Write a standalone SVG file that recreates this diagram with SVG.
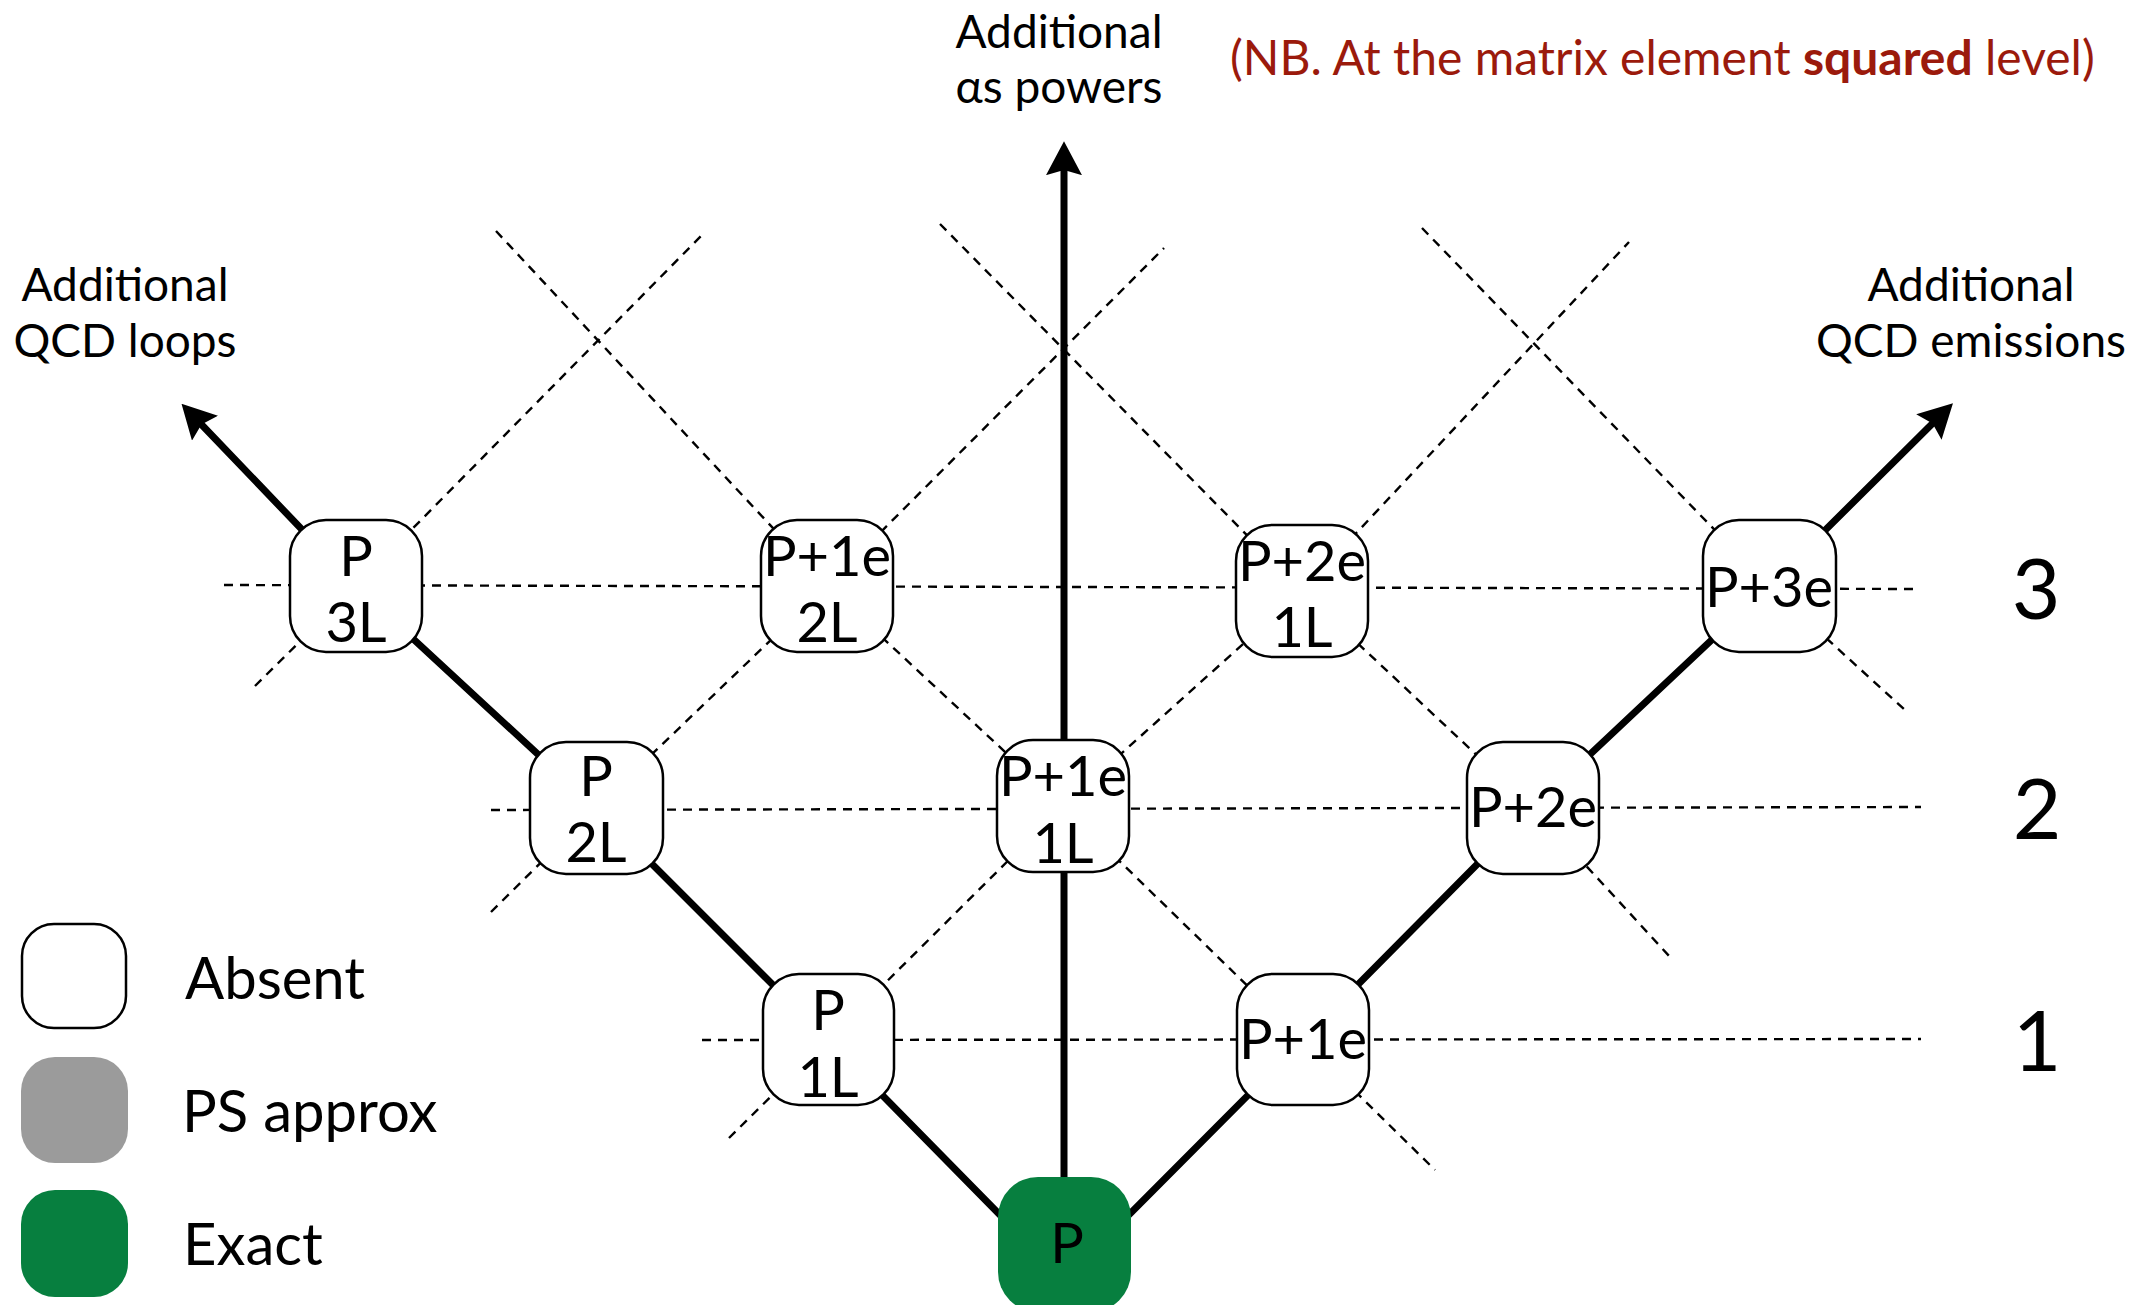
<svg xmlns="http://www.w3.org/2000/svg" width="2129" height="1305" viewBox="0 0 2129 1305">
  <style>
    text { font-family: Lato, "Liberation Sans", sans-serif; fill: #000; }
    .mid { text-anchor: middle; }
    .axis-lbl { font-size: 46px; }
    .node-t { font-size: 56px; text-anchor: middle; }
    .order { font-size: 84px; text-anchor: middle; }
    .legend-t { font-size: 58px; }
    .note { font-size: 48px; fill: #9b1a0c; }
    .box { fill: #fff; stroke: #000; stroke-width: 2.5; }
    .exact { fill: #077f3f; }
    .approx { fill: #9b9b9b; }
    .grid { fill: none; stroke: #000; stroke-width: 2.4; stroke-dasharray: 9 7; }
    .axis { fill: none; stroke: #000; stroke-width: 7; }
  </style>
  <defs>
    <marker id="head" markerUnits="userSpaceOnUse" markerWidth="34" markerHeight="36" viewBox="0 0 33 35" refX="7" refY="17.5" orient="auto">
      <path d="M0,0 L33,17.5 L0,35 L5,17.5 Z" fill="#000"/>
    </marker>
  </defs>

  <!-- connectors: dashed order grid and the three solid axes -->
  <g id="connectors">
    <!-- horizontal order lines -->
    <path class="grid" d="M224,585 L1914,589"/>
    <path class="grid" d="M491,810 L1921,807"/>
    <path class="grid" d="M702,1040 L1921,1039"/>
    <!-- down-right diagonals -->
    <path class="grid" d="M496,231 L827,586 L1063,806 L1303,1040 L1435,1170"/>
    <path class="grid" d="M940,224 L1302,591 L1533,808 L1670,957"/>
    <path class="grid" d="M1422,228 L1769,586 L1905,710"/>
    <!-- up-right diagonals -->
    <path class="grid" d="M255,686 L356,586 L702,235"/>
    <path class="grid" d="M491,912 L596,808 L827,586 L1164,248"/>
    <path class="grid" d="M729,1138 L828,1040 L1063,806 L1302,591 L1629,242"/>
    <!-- axes -->
    <path class="axis" marker-end="url(#head)" d="M1064,1200 L1064,168"/>
    <path class="axis" marker-end="url(#head)" d="M1064,1280 L828,1040 L596,808 L356,586 L200,423"/>
    <path class="axis" marker-end="url(#head)" d="M1064,1280 L1303,1040 L1533,808 L1769,586 L1934,422"/>
  </g>

  <!-- axis titles -->
  <g id="axis-labels">
    <text class="axis-lbl mid" x="1059" y="48">Additional</text>
    <text class="axis-lbl mid" x="1059" y="103">αs powers</text>
    <text class="axis-lbl mid" x="125" y="301">Additional</text>
    <text class="axis-lbl mid" x="125" y="357">QCD loops</text>
    <text class="axis-lbl mid" x="1971" y="301">Additional</text>
    <text class="axis-lbl mid" x="1971" y="357">QCD emissions</text>
    <text class="note" x="1230" y="75">(NB. At the matrix element <tspan font-weight="bold" style="fill:#9b1a0c">squared</tspan> level)</text>
  </g>

  <!-- order numbers -->
  <g id="orders">
    <text class="order" x="2036" y="619">3</text>
    <text class="order" x="2037" y="839">2</text>
    <text class="order" x="2037" y="1071">1</text>
  </g>

  <!-- nodes -->
  <g id="n-p3l">
    <rect class="box" x="290" y="520" width="132" height="132" rx="36"/>
    <text class="node-t" x="356" y="576">P</text>
    <text class="node-t" x="356" y="642">3L</text>
  </g>
  <g id="n-p2l">
    <rect class="box" x="530" y="742" width="133" height="132" rx="36"/>
    <text class="node-t" x="596" y="796">P</text>
    <text class="node-t" x="596" y="862">2L</text>
  </g>
  <g id="n-p1l">
    <rect class="box" x="763" y="974" width="131" height="131" rx="36"/>
    <text class="node-t" x="828" y="1030">P</text>
    <text class="node-t" x="828" y="1097">1L</text>
  </g>
  <g id="n-p">
    <rect class="exact" x="998" y="1177" width="133" height="135" rx="40"/>
    <text class="node-t" x="1067" y="1263">P</text>
  </g>
  <g id="n-p1e2l">
    <rect class="box" x="761" y="520" width="132" height="132" rx="36"/>
    <text class="node-t" x="827" y="576">P+1e</text>
    <text class="node-t" x="827" y="642">2L</text>
  </g>
  <g id="n-p1e1l">
    <rect class="box" x="997" y="740" width="132" height="132" rx="36"/>
    <text class="node-t" x="1063" y="796">P+1e</text>
    <text class="node-t" x="1063" y="863">1L</text>
  </g>
  <g id="n-p2e1l">
    <rect class="box" x="1236" y="525" width="132" height="132" rx="36"/>
    <text class="node-t" x="1302" y="581">P+2e</text>
    <text class="node-t" x="1302" y="647">1L</text>
  </g>
  <g id="n-p1e">
    <rect class="box" x="1237" y="974" width="132" height="131" rx="36"/>
    <text class="node-t" x="1303" y="1059">P+1e</text>
  </g>
  <g id="n-p2e">
    <rect class="box" x="1467" y="742" width="132" height="132" rx="36"/>
    <text class="node-t" x="1533" y="827">P+2e</text>
  </g>
  <g id="n-p3e">
    <rect class="box" x="1703" y="520" width="133" height="132" rx="36"/>
    <text class="node-t" x="1769" y="607">P+3e</text>
  </g>

  <!-- legend -->
  <g id="legend">
    <rect class="box" x="22" y="924" width="104" height="104" rx="32"/>
    <text class="legend-t" x="185" y="999">Absent</text>
    <rect class="approx" x="21" y="1057" width="107" height="106" rx="34"/>
    <text class="legend-t" x="182" y="1132">PS approx</text>
    <rect class="exact" x="21" y="1190" width="107" height="107" rx="34"/>
    <text class="legend-t" x="183" y="1265">Exact</text>
  </g>
</svg>
